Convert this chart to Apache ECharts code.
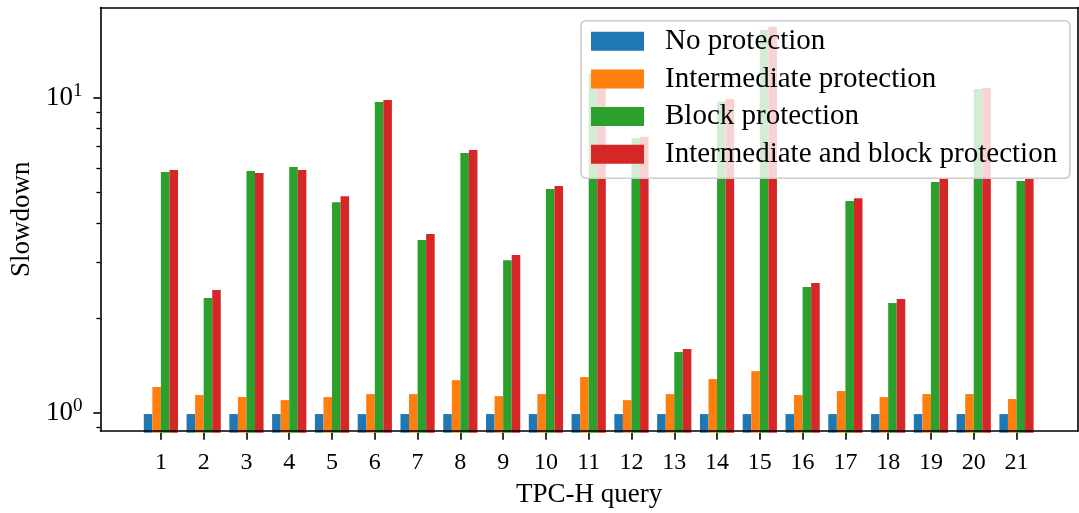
<!DOCTYPE html>
<html>
<head>
<meta charset="utf-8">
<script src="https://cdn.jsdelivr.net/npm/echarts@6/dist/echarts.min.js"></script>
<style>html,body{margin:0;padding:0;background:#fff}#c{width:1079px;height:513px}</style>
</head>
<body>
<div id="c"></div>
<script>
const queries = ['1','2','3','4','5','6','7','8','9','10','11','12','13','14','15','16','17','18','19','20','21'];
const noProtection = [1,1,1,1,1,1,1,1,1,1,1,1,1,1,1,1,1,1,1,1,1];
const intermediateProtection = [1.218,1.149,1.132,1.107,1.132,1.157,1.157,1.281,1.14,1.157,1.31,1.107,1.157,1.291,1.368,1.149,1.183,1.132,1.157,1.157,1.116];
const blockProtection = [5.84,2.33,5.89,6.06,4.69,9.73,3.56,6.71,3.07,5.16,12.0,7.47,1.572,9.75,16.46,2.525,4.73,2.247,5.43,10.7,5.47];
const bothProtection = [5.93,2.47,5.80,5.93,4.90,9.88,3.72,6.86,3.19,5.28,11.0,7.56,1.607,9.95,16.86,2.60,4.83,2.314,5.55,10.78,5.55];
const seriesNames = ['No protection','Intermediate protection','Block protection','Intermediate and block protection'];
const seriesColors = ['#1f77b4','#ff7f0e','#2ca02c','#d62728'];
const yMajorTicks = [1, 10];
const yMinorTicks = [0.9, 2, 3, 4, 5, 6, 7, 8, 9];
const yMin = 0.873, yMax = 19.4;

const FONT = '"Liberation Serif", "DejaVu Serif", serif';
const seriesValues = [noProtection, intermediateProtection, blockProtection, bothProtection];

const chart = echarts.init(document.getElementById('c'), null, {renderer: 'canvas'});
const frameTop = 7.5, frameBottom = 80.3;
const option = {
  animation: false,
  backgroundColor: '#fff',
  grid: [
    {left: 99.3, right: 1, top: frameTop, bottom: frameBottom},
    {left: 139.5, right: 41.1, top: frameTop, bottom: frameBottom}
  ],
  legend: {
    orient: 'vertical',
    left: 581, top: 20.7,
    padding: [6, 12.7, 9.5, 10],
    itemWidth: 53, itemHeight: 19, itemGap: 8.7,
    icon: 'rect',
    selectedMode: false,
    backgroundColor: 'rgba(255,255,255,0.8)',
    borderColor: '#cccccc', borderWidth: 1.6, borderRadius: 5,
    textStyle: {fontFamily: FONT, fontSize: 29, color: '#000', padding: [0, 0, 0, 16]},
    data: seriesNames
  },
  xAxis: [
    {gridIndex: 0, type: 'value', min: 0, max: 1, position: 'bottom', z: 5,
     axisLine: {show: true, lineStyle: {color: '#000', width: 1.6}},
     axisTick: {show: false}, axisLabel: {show: false}, splitLine: {show: false},
     name: 'TPC-H query', nameLocation: 'middle', nameGap: 50,
     nameTextStyle: {fontFamily: FONT, fontSize: 27, color: '#000'}},
    {gridIndex: 0, type: 'value', min: 0, max: 1, position: 'top', z: 5,
     axisLine: {show: true, lineStyle: {color: '#000', width: 1.6}},
     axisTick: {show: false}, axisLabel: {show: false}, splitLine: {show: false}},
    {gridIndex: 1, type: 'category', data: queries, position: 'bottom', z: 5,
     axisLine: {show: false},
     axisTick: {show: true, alignWithLabel: true, length: 7, lineStyle: {color: '#000', width: 1.6}},
     axisLabel: {margin: 18, fontFamily: FONT, fontSize: 24, color: '#000'},
     splitLine: {show: false}}
  ],
  yAxis: [
    {gridIndex: 0, type: 'log', logBase: 10, min: yMin, max: yMax, position: 'left', z: 5,
     axisLine: {show: true, lineStyle: {color: '#000', width: 1.6}},
     axisTick: {show: true, customValues: yMajorTicks, length: 7, lineStyle: {color: '#000', width: 1.6}},
     axisLabel: {show: true, customValues: yMajorTicks, margin: 18,
       formatter: function (v) { return '{b|10}{s|' + Math.round(Math.log10(v)) + '}'; },
       rich: {
         b: {fontFamily: FONT, fontSize: 27, color: '#000', lineHeight: 28},
         s: {fontFamily: FONT, fontSize: 19, color: '#000', lineHeight: 19, padding: [0, 0, 13, 0]}
       }},
     splitLine: {show: false}, minorTick: {show: false},
     name: 'Slowdown', nameLocation: 'middle', nameGap: 61, nameRotate: 90,
     nameTextStyle: {fontFamily: FONT, fontSize: 27, color: '#000'}},
    {gridIndex: 0, type: 'log', logBase: 10, min: yMin, max: yMax, position: 'left', z: 5,
     axisLine: {show: false},
     axisTick: {show: true, customValues: yMinorTicks, length: 4, lineStyle: {color: '#000', width: 1.3}},
     axisLabel: {show: false}, splitLine: {show: false}},
    {gridIndex: 0, type: 'value', min: 0, max: 1, position: 'right', z: 5,
     axisLine: {show: true, lineStyle: {color: '#000', width: 1.6}},
     axisTick: {show: false}, axisLabel: {show: false}, splitLine: {show: false}},
    {gridIndex: 1, type: 'log', logBase: 10, min: yMin, max: yMax, startValue: yMin, show: false,
     splitLine: {show: false}}
  ],
  series: seriesNames.map(function (name, i) {
    return {
      name: name, type: 'bar', xAxisIndex: 2, yAxisIndex: 3,
      data: seriesValues[i], barWidth: '20%', barGap: '0%',
      itemStyle: {color: seriesColors[i]}
    };
  })
};
chart.setOption(option);
</script>
</body>
</html>
